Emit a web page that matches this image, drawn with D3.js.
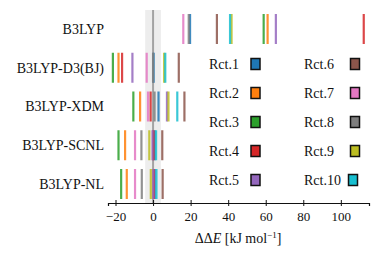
<!DOCTYPE html>
<html>
<head>
<meta charset="utf-8">
<script src="https://cdn.jsdelivr.net/npm/d3@7"></script>
<style>
	body { margin: 0; background: #fff; }
	svg text { font-family: "Liberation Serif", "DejaVu Serif", serif; fill: #111; }
</style>
</head>
<body>
<div id="chart"></div>
<script>
const methods = ["B3LYP", "B3LYP-D3(BJ)", "B3LYP-XDM", "B3LYP-SCNL", "B3LYP-NL"];
const reactions = ["Rct.1", "Rct.2", "Rct.3", "Rct.4", "Rct.5", "Rct.6", "Rct.7", "Rct.8", "Rct.9", "Rct.10"];

// ddE per method, in order Rct.1 .. Rct.10 (kJ/mol)
const b3lyp = [19.7, 61.0, 58.9, 112.2, 65.4, 34.0, 16.1, 19.0, 41.8, 41.0];
const b3lypD3 = [0.3, -18.4, -21.4, -16.5, -11.0, 13.7, -3.4, 0.0, 5.9, 6.5];
const b3lypXDM = [2.9, -6.9, -10.5, -1.3, 7.4, 16.7, -2.7, 0.8, 8.2, 12.9];
const b3lypSCNL = [0.8, -14.9, -18.4, 0.2, -0.3, 4.9, -9.6, -6.2, -2.0, 1.6];
const b3lypNL = [0.9, -14.0, -17.0, 0.4, 0.2, 5.1, -9.6, -6.0, -1.2, 1.8];

const xTicks = [-20, 0, 20, 40, 60, 80, 100];
const accuracy = 4.184; // 1 kcal/mol band

const series = [b3lyp, b3lypD3, b3lypXDM, b3lypSCNL, b3lypNL];

const width = 378, height = 256;
const color = d3.scaleOrdinal().domain(reactions).range(d3.schemeCategory10);

const x = d3.scaleLinear().domain([-24, 115]).range([108, 369]);
const y = d3.scalePoint().domain(methods).range([29, 184]);
const axisY = 203, plotTop = 10, barHalf = 15;

const svg = d3.select("#chart").append("svg")
	.attr("width", width).attr("height", height);

// accuracy band + zero line
svg.append("rect")
	.attr("x", x(-accuracy)).attr("y", plotTop)
	.attr("width", x(accuracy) - x(-accuracy)).attr("height", axisY - plotTop)
	.attr("fill", "#ededed");

svg.append("line")
	.attr("x1", x(0)).attr("x2", x(0))
	.attr("y1", plotTop).attr("y2", axisY)
	.attr("stroke", "#a3a3a3").attr("stroke-width", 2);

// reaction lines
methods.forEach((m, i) => {
	svg.append("g").selectAll("line")
		.data(series[i])
		.enter().append("line")
		.attr("x1", d => x(d)).attr("x2", d => x(d))
		.attr("y1", y(m) - barHalf).attr("y2", y(m) + barHalf)
		.attr("stroke", (d, j) => color(reactions[j]))
		.attr("stroke-width", 2.2)
		.attr("stroke-opacity", 0.85);
});

// method labels
svg.append("g").selectAll("text")
	.data(methods)
	.enter().append("text")
	.attr("x", 104).attr("y", d => y(d))
	.attr("dy", "0.35em")
	.attr("text-anchor", "end")
	.attr("font-size", 14)
	.text(d => d);

// x axis
const xAxis = svg.append("g")
	.attr("transform", "translate(0," + axisY + ")")
	.call(d3.axisBottom(x)
		.tickValues(xTicks)
		.tickSize(3)
		.tickPadding(6)
		.tickFormat(d => d < 0 ? "\u2212" + Math.abs(d) : d));
xAxis.select(".domain").attr("stroke", "#111").attr("stroke-width", 1.2);
xAxis.selectAll(".tick line").attr("y1", -3).attr("stroke", "#111");
xAxis.selectAll(".tick text")
	.attr("font-size", 13)
	.attr("font-family", "Liberation Serif, serif")
	.attr("fill", "#111");

const title = svg.append("text")
	.attr("x", 238).attr("y", 243)
	.attr("text-anchor", "middle")
	.attr("font-size", 14);
title.append("tspan").text("\u0394\u0394");
title.append("tspan").attr("font-style", "italic").text("E");
title.append("tspan").text(" [kJ mol");
title.append("tspan").attr("font-size", 9).attr("dy", -5).text("\u22121");
title.append("tspan").attr("dy", 5).text("]");

// legend
const legend = svg.append("g").selectAll("g")
	.data(reactions)
	.enter().append("g")
	.attr("transform", (d, i) => {
		const col = Math.floor(i / 5), row = i % 5;
		return "translate(" + (209 + col * 95) + "," + (64 + row * 29) + ")";
	});

legend.append("text")
	.attr("x", 0).attr("y", 0)
	.attr("dy", "0.35em")
	.attr("font-size", 14)
	.text(d => d);

legend.append("rect")
	.attr("x", (d, i) => i === 9 ? 44.5 : (i < 5 ? 42 : 46.5))
	.attr("y", -5.5)
	.attr("width", 9).attr("height", 11)
	.attr("fill", d => color(d))
	.attr("stroke", "#111")
	.attr("stroke-width", 1.5);
</script>
</body>
</html>
